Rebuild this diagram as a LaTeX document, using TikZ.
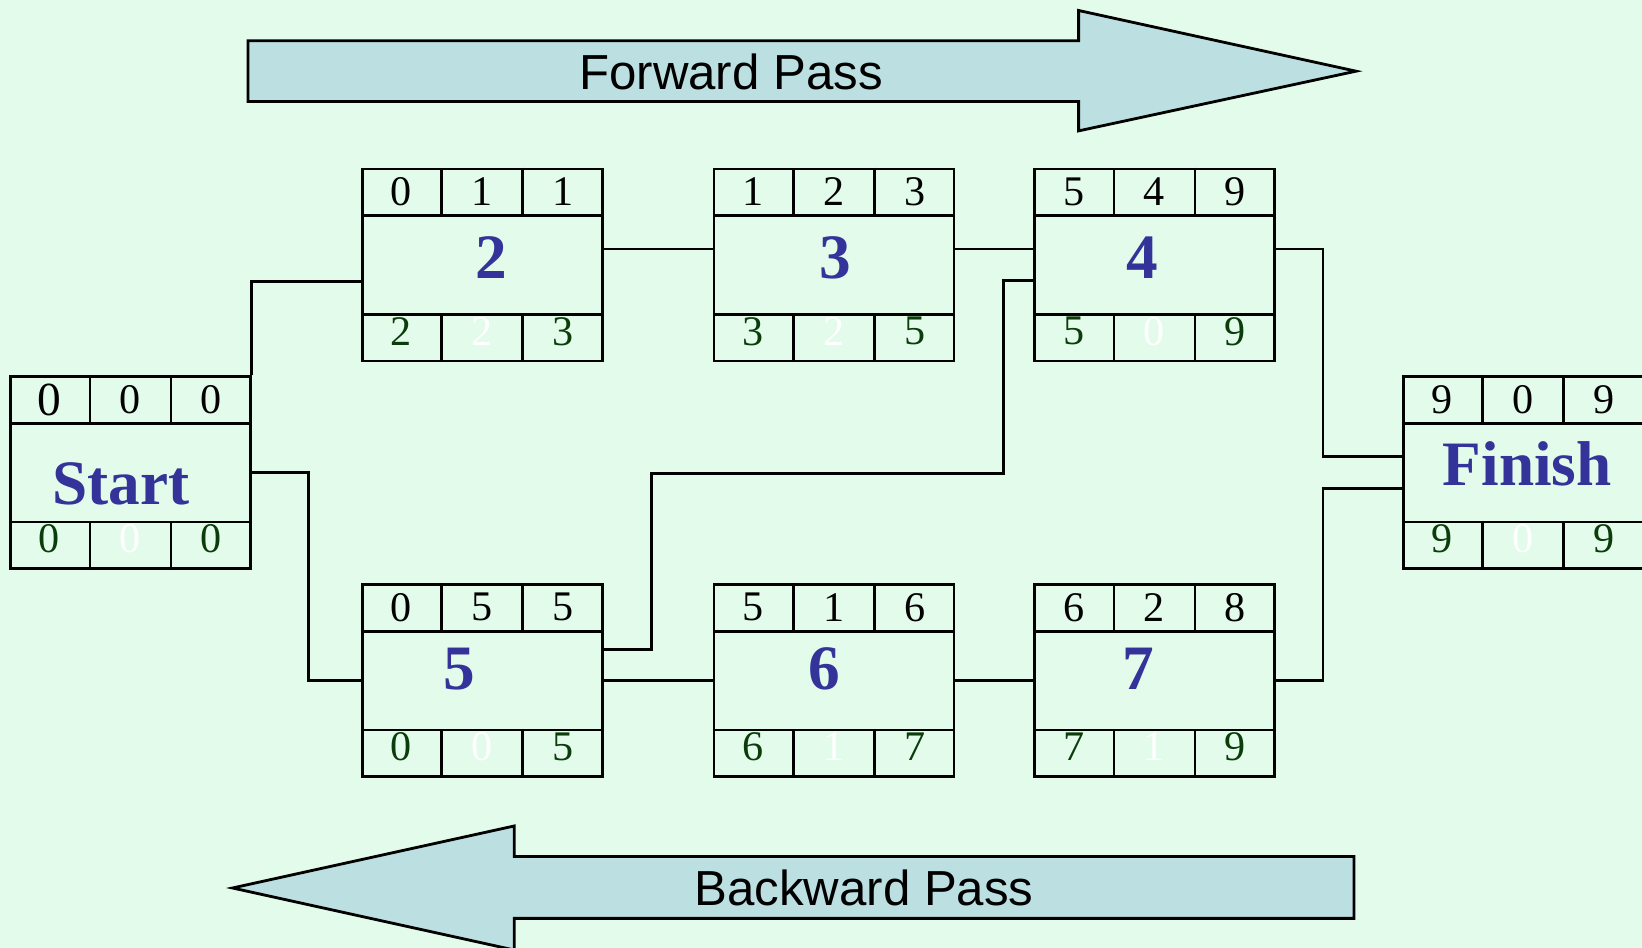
\documentclass[tikz,border=0pt]{standalone}
\usepackage{fontspec}
\setmainfont{Liberation Serif}
\newfontfamily\passfont{Liberation Sans}
\usepackage{xcolor}
\usetikzlibrary{calc,positioning}

\definecolor{mint}{HTML}{E3FBEA}
\definecolor{passblue}{HTML}{BCE0E2}
\definecolor{labelblue}{HTML}{333399}
\definecolor{darkgreen}{HTML}{0B3D0B}

% activity box: name, centre, top three, bottom three
\newcommand{\actbox}[8]{%
  \node[actnode] (#1) at (#2) {};
  \draw[cell] ($(#1.north west)+(0,-0.48)$) -- ($(#1.north east)+(0,-0.48)$);
  \draw[cell] ($(#1.south west)+(0,0.48)$) -- ($(#1.south east)+(0,0.48)$);
  \foreach \f in {1/3,2/3} {
    \draw[cell] ($(#1.north west)!\f!(#1.north east)$) -- ++(0,-0.48);
    \draw[cell] ($(#1.south west)!\f!(#1.south east)$) -- ++(0,0.48);
  }
  \node[topnum] (#1-t1) at ($(#1.north west)!1/6!(#1.north east)+(0,-0.24)$) {#3};
  \node[topnum] (#1-t2) at ($(#1.north west)!1/2!(#1.north east)+(0,-0.24)$) {#4};
  \node[topnum] (#1-t3) at ($(#1.north west)!5/6!(#1.north east)+(0,-0.24)$) {#5};
  \node[botnum] (#1-b1) at ($(#1.south west)!1/6!(#1.south east)+(0,0.31)$) {#6};
  \node[botnum, text=white] (#1-b2) at ($(#1.south west)!1/2!(#1.south east)+(0,0.31)$) {#7};
  \node[botnum] (#1-b3) at ($(#1.south west)!5/6!(#1.south east)+(0,0.31)$) {#8};
}

\begin{document}
\begin{tikzpicture}[
    actnode/.style={rectangle, draw, line width=0.75pt, minimum width=2.4cm, minimum height=1.92cm, inner sep=0pt},
    cell/.style={line width=0.75pt},
    biglabel/.style={font=\fontsize{18pt}{19pt}\selectfont\bfseries, text=labelblue, inner sep=0pt},
    topnum/.style={font=\fontsize{12pt}{13pt}\selectfont, inner sep=0pt},
    botnum/.style={font=\fontsize{12pt}{13pt}\selectfont, text=darkgreen, inner sep=0pt},
    link/.style={line width=0.75pt},
    passarrow/.style={draw, line width=0.8pt, fill=passblue},
    passtext/.style={font=\passfont\fontsize{14pt}{15pt}\selectfont, inner sep=0pt}
]
    \fill[mint] (0,0) rectangle (16.42,-9.48);
    \useasboundingbox (0,0) rectangle (16.42,-9.48);

    % passes
    \draw[passarrow] (2.48,-0.408) -- (10.786,-0.408) -- (10.786,-0.105) -- (13.56,-0.712)
        -- (10.786,-1.309) -- (10.786,-1.016) -- (2.48,-1.016) -- cycle;
    \node[passtext] (fwd) at (7.31,-0.723) {Forward Pass};
    \draw[passarrow] (13.54,-8.566) -- (5.142,-8.566) -- (5.142,-8.26) -- (2.325,-8.88)
        -- (5.142,-9.50) -- (5.142,-9.184) -- (13.54,-9.184) -- cycle;
    \node[passtext] (bwd) at (8.64,-8.88) {Backward Pass};

    % activities
    \actbox{start}{1.304,-4.728}{\fontsize{13.5pt}{14pt}\selectfont 0}{0}{0}{0}{0}{0}
    \actbox{a2}{4.822,-2.65}{0}{1}{1}{2}{2}{3}
    \actbox{a3}{8.341,-2.65}{1}{2}{3}{3}{2}{5}
    \actbox{a4}{11.545,-2.65}{5}{4}{9}{5}{0}{9}
    \actbox{a5}{4.822,-6.806}{0}{5}{5}{0}{0}{5}
    \actbox{a6}{8.341,-6.806}{5}{1}{6}{6}{1}{7}
    \actbox{a7}{11.545,-6.806}{6}{2}{8}{7}{1}{9}
    \actbox{finish}{15.232,-4.728}{9}{0}{9}{9}{0}{9}

    \node[biglabel] (start-l) at ($(start)+(-0.094,-0.11)$) {Start};
    \node[biglabel] (a2-l) at ($(a2)+(0.094,0.07)$) {2};
    \node[biglabel] (a3-l) at ($(a3)+(0.01,0.07)$) {3};
    \node[biglabel] (a4-l) at ($(a4)+(-0.125,0.07)$) {4};
    \node[biglabel] (a5-l) at ($(a5)+(-0.23,0.115)$) {5};
    \node[biglabel] (a6-l) at ($(a6)+(-0.094,0.115)$) {6};
    \node[biglabel] (a7-l) at ($(a7)+(-0.16,0.115)$) {7};
    \node[biglabel] (finish-l) at ($(finish)+(0.04,0.09)$) {Finish};

    % links
    \draw[link] (start.north east) |- ($(a2.west)+(0,-0.167)$);
    \draw[link] (start.east) -- ++(0.565,0) |- (a5.west);
    \draw[link] ($(a2.east)+(0,0.16)$) -- ($(a3.west)+(0,0.16)$);
    \draw[link] ($(a3.east)+(0,0.16)$) -- ($(a4.west)+(0,0.16)$);
    \draw[link] ($(a4.east)+(0,0.16)$) -- ++(0.472,0) |- ($(finish.west)+(0,0.16)$);
    \draw[link] ($(a5.east)+(0,0.31)$) -- ++(0.482,0) -- ++(0,1.76) -- ++(3.52,0)
        |- ($(a4.west)+(0,-0.156)$);
    \draw[link] (a5.east) -- (a6.west);
    \draw[link] (a6.east) -- (a7.west);
    \draw[link] (a7.east) -- ++(0.472,0) |- ($(finish.west)+(0,-0.16)$);
\end{tikzpicture}
\end{document}
